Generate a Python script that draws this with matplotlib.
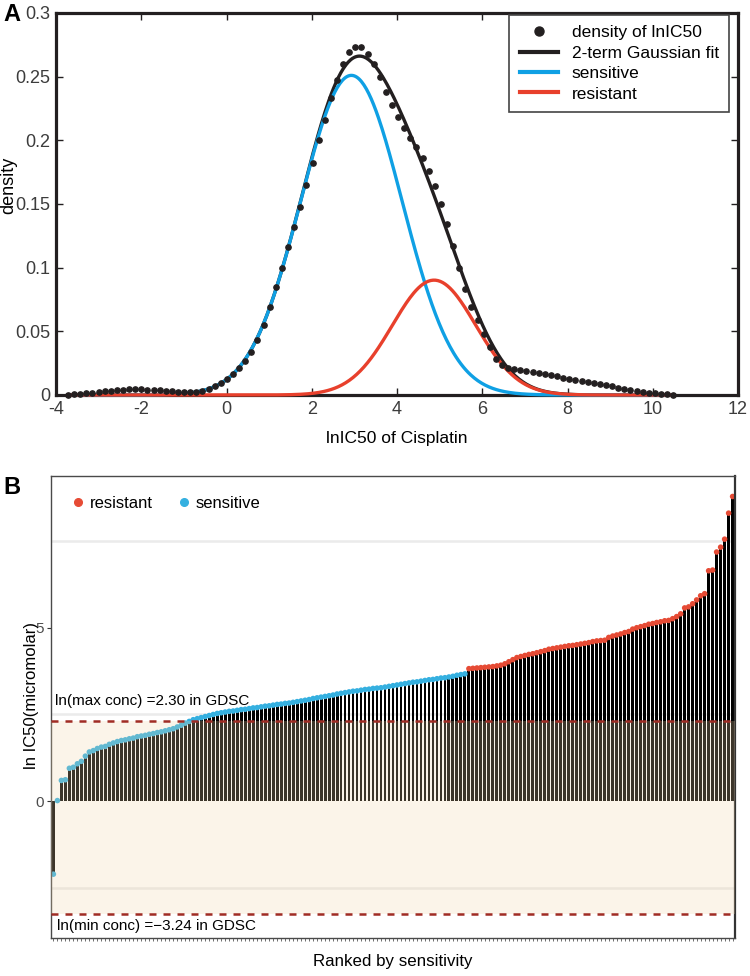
import numpy as np
import matplotlib.pyplot as plt
from matplotlib.lines import Line2D

plt.rcParams['font.family'] = ['Liberation Sans', 'DejaVu Sans']

# ---------------- panel A data ----------------
# kernel density of lnIC50, evaluated on 100 evenly spaced points
dens_x_min, dens_x_max = -3.72, 10.48
density = [
    0.0003, 0.0006, 0.0009, 0.0013, 0.0018, 0.0023, 0.0029, 0.0034, 0.0039, 0.0042,
    0.0044, 0.0045, 0.0044, 0.0042, 0.0039, 0.0036, 0.0032, 0.0029, 0.0026, 0.0024,
    0.0023, 0.0025, 0.0034, 0.0050, 0.0068, 0.0094, 0.0125, 0.0165, 0.0210, 0.0270,
    0.0340, 0.0430, 0.0550, 0.0690, 0.0850, 0.1000, 0.1160, 0.1320, 0.1480, 0.1650,
    0.1820, 0.2000, 0.2160, 0.2330, 0.2470, 0.2600, 0.2690, 0.2734, 0.2734, 0.2680,
    0.2600, 0.2500, 0.2380, 0.2280, 0.2180, 0.2096, 0.2020, 0.1945, 0.1860, 0.1760,
    0.1640, 0.1497, 0.1340, 0.1170, 0.1000, 0.0830, 0.0690, 0.0585, 0.0480, 0.0377,
    0.0286, 0.0234, 0.0213, 0.0203, 0.0195, 0.0187, 0.0179, 0.0172, 0.0164, 0.0156,
    0.0146, 0.0135, 0.0125, 0.0117, 0.0109, 0.0101, 0.0094, 0.0086, 0.0078, 0.0068,
    0.0057, 0.0047, 0.0039, 0.0031, 0.0023, 0.0018, 0.0013, 0.0008, 0.0005, 0.0003,
]

# 2-term gaussian fit: (peak height, centre, sd)
sens_fit = (0.251, 2.93, 1.19)
res_fit = (0.0902, 4.87, 0.98)

# ---------------- panel B data ----------------
ic50_sorted = [
    -2.10, 0.02, 0.60, 0.62, 0.95, 0.98, 1.08, 1.15, 1.30, 1.42,
    1.46, 1.52, 1.56, 1.58, 1.64, 1.68, 1.72, 1.75, 1.77, 1.80,
    1.82, 1.86, 1.88, 1.90, 1.93, 1.95, 1.98, 2.00, 2.03, 2.06,
    2.09, 2.14, 2.19, 2.25, 2.30, 2.35, 2.38, 2.41, 2.44, 2.47,
    2.50, 2.53, 2.55, 2.57, 2.59, 2.60, 2.62, 2.64, 2.65, 2.67,
    2.69, 2.70, 2.72, 2.74, 2.75, 2.77, 2.79, 2.80, 2.82, 2.83,
    2.85, 2.87, 2.89, 2.91, 2.93, 2.96, 2.98, 3.00, 3.02, 3.04,
    3.06, 3.09, 3.11, 3.13, 3.15, 3.17, 3.18, 3.20, 3.22, 3.23,
    3.25, 3.26, 3.27, 3.29, 3.31, 3.33, 3.35, 3.37, 3.39, 3.41,
    3.43, 3.44, 3.46, 3.48, 3.50, 3.51, 3.53, 3.55, 3.56, 3.58,
    3.60, 3.63, 3.65, 3.67,
    3.82, 3.83, 3.84, 3.85, 3.86, 3.87, 3.88, 3.90, 3.92, 3.96,
    4.02, 4.08, 4.14, 4.17, 4.20, 4.23, 4.25, 4.28, 4.31, 4.34,
    4.38, 4.40, 4.42, 4.44, 4.46, 4.48, 4.49, 4.51, 4.53, 4.55,
    4.57, 4.60, 4.62, 4.63, 4.64, 4.72, 4.76, 4.79, 4.82, 4.86,
    4.89, 4.96, 5.00, 5.03, 5.06, 5.10, 5.12, 5.15, 5.17, 5.20,
    5.21, 5.26, 5.32, 5.40, 5.57, 5.60, 5.69, 5.80, 5.92, 5.98,
    6.64, 6.66, 7.18, 7.32, 7.55, 8.30, 8.78,
]
n_sensitive = 104
max_conc = 2.30
min_conc = -3.24

dark = '#231f20'
blue_a = '#0fa0e4'
red_a = '#e8402c'
red_b = '#e64b35'
blue_b = '#35b0e0'


def gauss(x, a, b, s):
    return a * np.exp(-(x - b) ** 2 / (2 * s ** 2))


fig = plt.figure(figsize=(7.5, 9.76), dpi=100)

# ================= panel A =================
axA = fig.add_axes([0.0747, 0.5953, 0.9093, 0.3914])
dens_x = np.linspace(dens_x_min, dens_x_max, len(density))
xs = np.linspace(dens_x_min, dens_x_max, 500)
sens = gauss(xs, *sens_fit)
res = gauss(xs, *res_fit)

axA.plot(xs, sens + res, color=dark, lw=2.4, clip_on=False, zorder=2)
axA.plot(xs, sens, color=blue_a, lw=2.4, clip_on=False, zorder=3)
axA.plot(xs, res, color=red_a, lw=2.4, clip_on=False, zorder=4)
axA.plot(dens_x, density, 'o', color=dark, ms=3.8, clip_on=False, zorder=5)

axA.set_xlim(-4, 12)
axA.set_ylim(0, 0.3)
axA.set_xticks(np.arange(-4, 13, 2))
axA.set_xticklabels([str(v) for v in range(-4, 13, 2)])
axA.set_yticks([0, 0.05, 0.1, 0.15, 0.2, 0.25, 0.3])
axA.set_yticklabels(['0', '0.05', '0.1', '0.15', '0.2', '0.25', '0.3'])
axA.tick_params(direction='in', length=5, width=1, top=True, right=True,
                labelsize=13, labelcolor='#3c3c3c', color=dark, pad=4)
for sp in axA.spines.values():
    sp.set_linewidth(2.3)
    sp.set_color(dark)
axA.set_xlabel('lnIC50 of Cisplatin', fontsize=12.5, labelpad=10)
axA.set_ylabel('density', fontsize=13)
axA.yaxis.set_label_coords(-0.057, 0.55)

handlesA = [
    Line2D([], [], marker='o', ls='none', color=dark, ms=6.5),
    Line2D([], [], color=dark, lw=3),
    Line2D([], [], color=blue_a, lw=3),
    Line2D([], [], color=red_a, lw=3),
]
legA = axA.legend(handlesA, ['density of lnIC50', '2-term Gaussian fit', 'sensitive', 'resistant'],
                  loc='upper right', bbox_to_anchor=(0.987, 0.995), borderaxespad=0,
                  fancybox=False, edgecolor='#444444', framealpha=1, fontsize=12.5,
                  handlelength=2.2, labelspacing=0.3, borderpad=0.6)
legA.get_frame().set_linewidth(1.2)

fig.text(0.004, 0.997, 'A', fontsize=17, fontweight='bold', va='top')

# ================= panel B =================
axB = fig.add_axes([0.068, 0.0389, 0.912, 0.4734])
vals = np.array(ic50_sorted)
idx = np.arange(len(vals))
pt_colors = [blue_b] * n_sensitive + [red_b] * (len(vals) - n_sensitive)

for gy in (-2.5, 2.5, 7.5):
    axB.axhline(gy, color='#ebebeb', lw=1.8, zorder=0)
axB.bar(idx, vals, width=0.72, color='black', lw=0, zorder=1)
axB.scatter(idx, vals, s=16, c=pt_colors, linewidths=0, zorder=2)
axB.axhspan(min_conc, max_conc, color=(0.94, 0.83, 0.66), alpha=0.25, lw=0, zorder=3)
axB.axhline(max_conc, color='#a02c24', lw=1.8, dashes=(2.8, 2.8), zorder=4)
axB.axhline(min_conc, color='#a02c24', lw=1.8, dashes=(2.8, 2.8), zorder=4)

axB.text(0.3, 2.9, 'ln(max conc) =%.2f in GDSC' % max_conc, fontsize=11, va='center', ha='left', zorder=5)
axB.text(1.0, -3.6, 'ln(min conc) =\u2212%.2f in GDSC' % abs(min_conc), fontsize=11, va='center', ha='left', zorder=5)

axB.set_xlim(-0.6, len(vals) - 0.4)
axB.set_ylim(-3.94, 9.37)
axB.set_xticks(idx)
axB.set_xticklabels([])
axB.set_yticks([0, 5])
axB.set_yticklabels(['0', '5'])
axB.tick_params(axis='x', length=2, width=0.5, color='#333333')
axB.tick_params(axis='y', length=3, width=0.8, color='#333333', labelsize=11, labelcolor='#4d4d4d', pad=2)
for sp in axB.spines.values():
    sp.set_linewidth(1.0)
    sp.set_color('#4a4a4a')
axB.spines['right'].set_linewidth(1.6)
axB.spines['right'].set_color('#333333')

axB.set_xlabel('Ranked by sensitivity', fontsize=12.2, labelpad=6)
axB.set_ylabel('ln IC50(micromolar)', fontsize=12)
axB.yaxis.set_label_coords(-0.0175, 0.524)

handlesB = [
    Line2D([], [], marker='o', ls='none', color=red_b, ms=5.5),
    Line2D([], [], marker='o', ls='none', color=blue_b, ms=5.5),
]
axB.legend(handlesB, ['resistant', 'sensitive'], loc='upper left', bbox_to_anchor=(0.005, 0.99),
           ncol=2, frameon=False, fontsize=12, handlelength=1.0, handletextpad=0.2,
           columnspacing=1.4)

fig.text(0.004, 0.512, 'B', fontsize=17, fontweight='bold', va='top')

fig.savefig('out.png', dpi=100)
